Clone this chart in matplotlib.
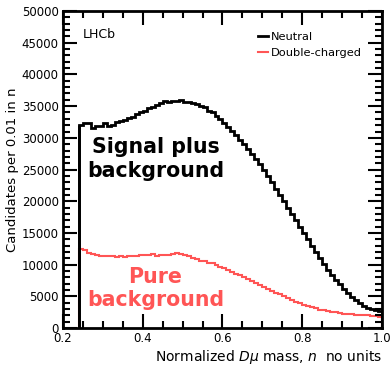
import matplotlib
matplotlib.use("Agg")
import matplotlib.pyplot as plt
import numpy as np
from matplotlib.ticker import MultipleLocator

edges = np.round(np.arange(0.24, 1.0001, 0.01), 2)

neutral = [32100, 32300, 32400, 31600, 31800, 31900, 32300, 31900, 32100, 32500,
           32600, 32800, 33100, 33300, 33800, 34000, 34200, 34700, 34900, 35200,
           35500, 35800, 35700, 35800, 35800, 36000, 35700, 35600, 35500, 35300,
           35100, 34800, 34300, 34000, 33400, 32900, 32300, 31700, 31100, 30400,
           29700, 29000, 28200, 27400, 26600, 25800, 24900, 24000, 23000, 22000,
           21000, 20000, 19000, 18000, 17000, 16000, 15000, 14000, 13000, 12000,
           11000, 10100, 9200, 8400, 7600, 6900, 6200, 5500, 4900, 4400,
           3900, 3500, 3200, 3000, 2800, 2700]

double = [12500, 12300, 11900, 11700, 11500, 11400, 11400, 11300, 11300, 11200,
          11300, 11200, 11300, 11400, 11300, 11500, 11600, 11500, 11700, 11400,
          11600, 11600, 11500, 11700, 11800, 11700, 11500, 11300, 11000, 10900,
          10600, 10600, 10300, 10200, 9900, 9600, 9400, 9100, 8900, 8600,
          8300, 8000, 7700, 7400, 7100, 6800, 6500, 6200, 5900, 5600,
          5300, 5000, 4700, 4400, 4100, 3900, 3700, 3500, 3300, 3100,
          2900, 2800, 2700, 2600, 2500, 2400, 2300, 2200, 2200, 2100,
          2100, 2000, 2000, 1900, 1900, 1800]

red = '#ff5555'

fig = plt.figure(figsize=(3.91, 3.67), dpi=100)
ax = fig.add_axes([0.161, 0.106, 0.816, 0.864])

ax.stairs(double, edges, color=red, lw=1.5, label='Double-charged')
ax.stairs(neutral, edges, color='black', lw=2, label='Neutral')
ax.vlines(edges[0], 0, neutral[0], color='black', lw=2)

ax.set_xlim(0.2, 1.0)
ax.set_ylim(0, 50000)
ax.xaxis.set_major_locator(MultipleLocator(0.2))
ax.xaxis.set_minor_locator(MultipleLocator(0.05))
ax.yaxis.set_major_locator(MultipleLocator(5000))
ax.yaxis.set_minor_locator(MultipleLocator(1000))
ax.tick_params(which='both', direction='in', top=True, right=True, width=1.5, labelsize=8.5)
ax.tick_params(which='major', length=10, pad=3)
ax.tick_params(which='minor', length=5)
for s in ax.spines.values():
    s.set_linewidth(2)

ax.set_ylabel('Candidates per 0.01 in n', fontsize=9.5, labelpad=2)
ax.set_xlabel(r'Normalized $D\mu$ mass, $n$  no units', fontsize=10, loc='right', labelpad=2)

ax.text(0.25, 45700, 'LHCb', fontsize=9)
ax.text(0.432, 26650, 'Signal plus\nbackground', fontsize=14.8, fontweight='bold',
        ha='center', va='center', linespacing=1.2)
ax.text(0.432, 6300, 'Pure\nbackground', fontsize=14.8, fontweight='bold', color=red,
        ha='center', va='center', linespacing=1.2)

h, l = ax.get_legend_handles_labels()
ax.legend(h[::-1], l[::-1], loc='upper right', frameon=False, fontsize=8.2,
          handlelength=0.9, handletextpad=0.3, labelspacing=0.5,
          bbox_to_anchor=(0.97, 0.965))

fig.savefig('out.png', dpi=100)
